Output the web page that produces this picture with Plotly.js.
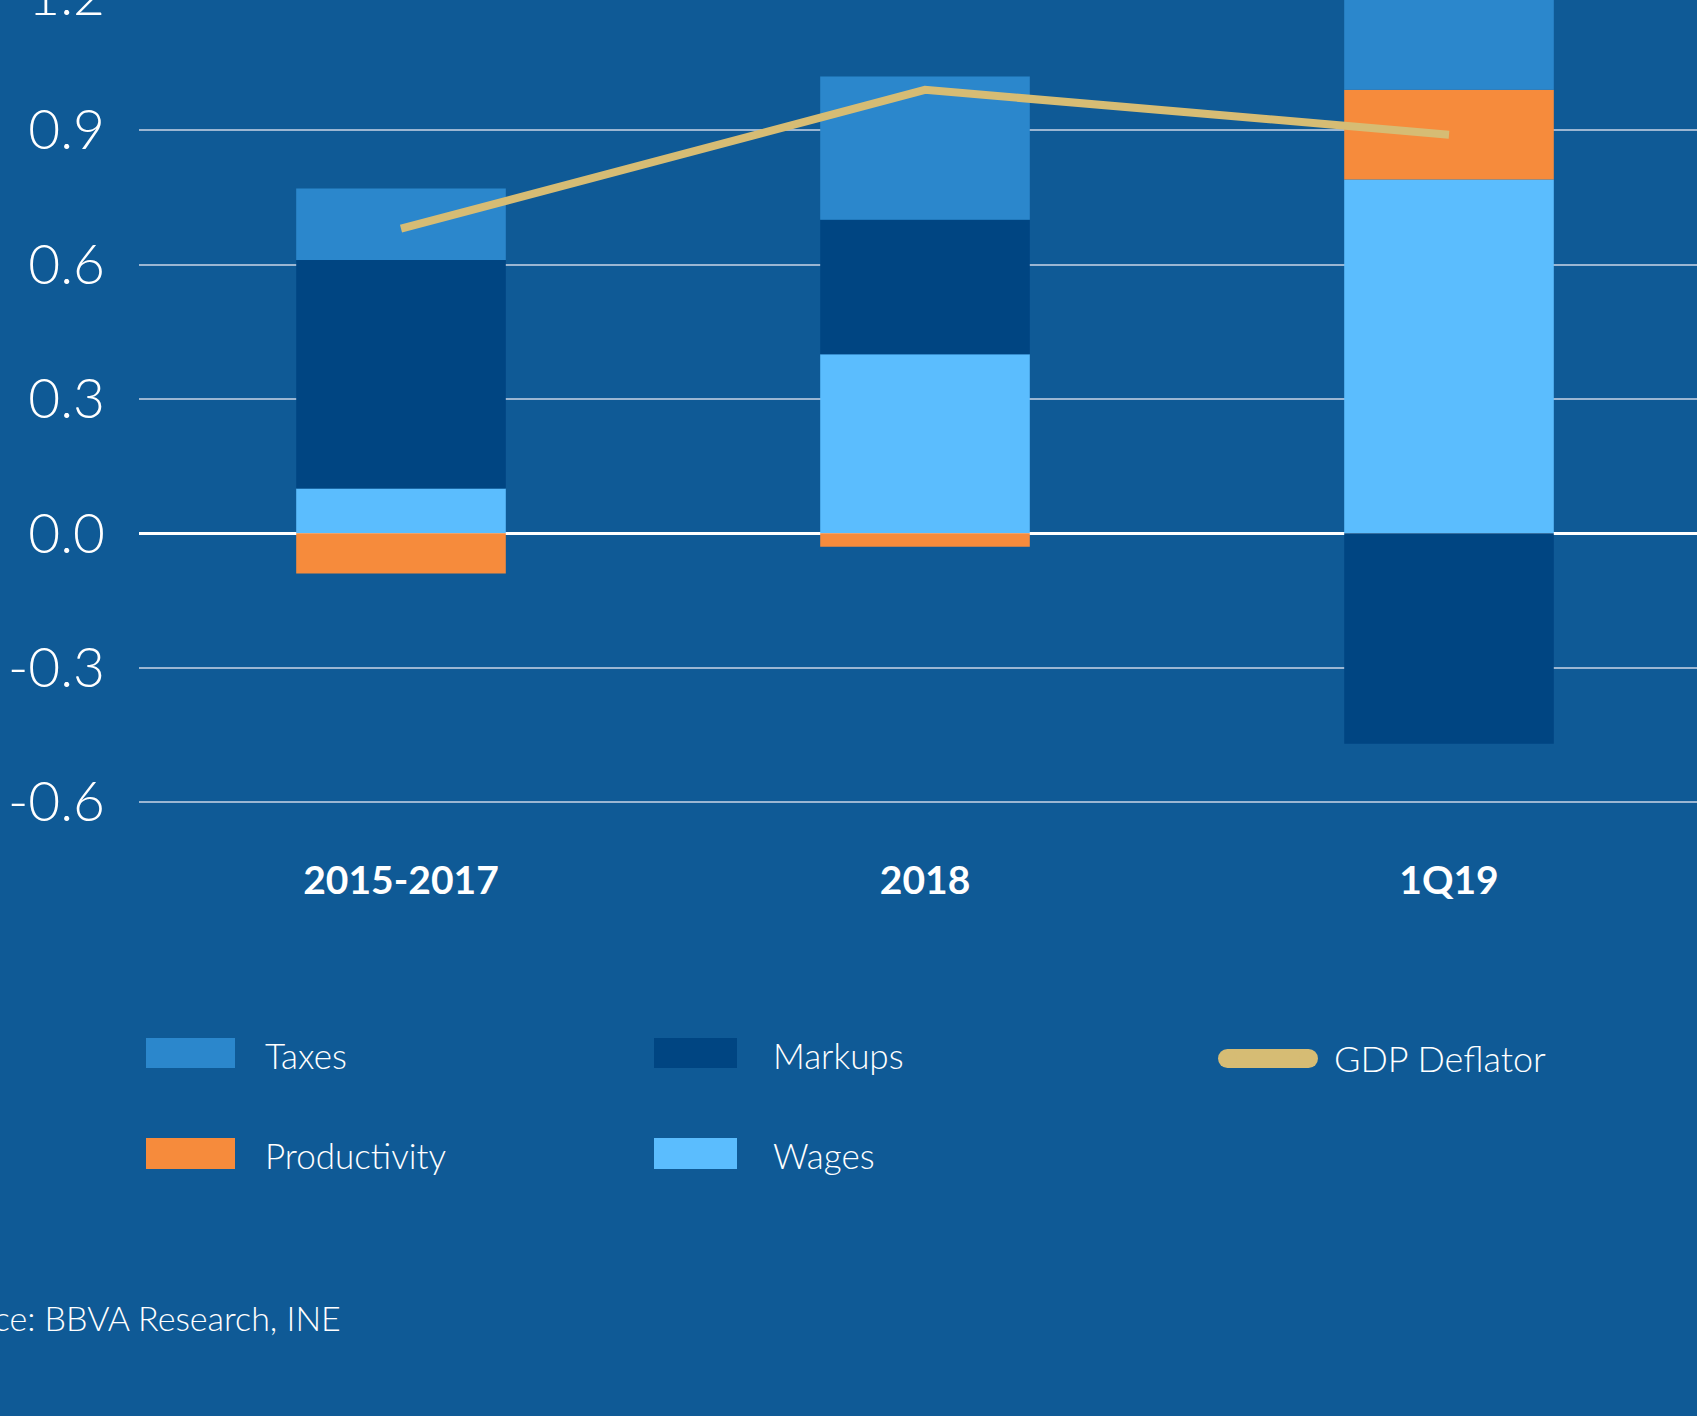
<!DOCTYPE html>
<html>
<head>
<meta charset="utf-8">
<script src="https://cdn.plot.ly/plotly-3.0.1.min.js"></script>
<style>
  html, body { margin: 0; padding: 0; width: 1697px; height: 1416px; overflow: hidden; background: #0F5A96; }
  #chart { position: absolute; left: -100px; top: -100px; width: 1861px; height: 1560px; }
</style>
</head>
<body>
<div id="chart"></div>
<script>
// ---- data ----
const categories = ['2015-2017', '2018', '1Q19'];
const seriesNames = ['Taxes', 'Markups', 'GDP Deflator', 'Productivity', 'Wages'];
const taxes = [0.16, 0.32, 0.30];
const markups = [0.51, 0.30, -0.47];
const productivity = [-0.09, -0.03, 0.20];
const wages = [0.10, 0.40, 0.79];
const gdpDeflator = [0.68, 0.99, 0.89];
const yTickVals = [-0.6, -0.3, 0.0, 0.3, 0.6, 0.9, 1.2];
const yTickText = yTickVals.map(v => v.toFixed(1));   // plain hyphen for negatives
const sourceText = 'Source: BBVA Research, INE';

// ---- styles ----
const colors = {
  Taxes: '#2B87CC',
  Markups: '#004582',
  Productivity: '#F68B3C',
  Wages: '#5BBDFE',
  'GDP Deflator': '#D6BC74'
};
const BG = '#0F5A96';
const LIGHT = 'Lato, "Open Sans", sans-serif';

// page-pixel geometry of the plot area (chart is a crop of a larger figure)
const OFFX = 100, OFFY = 100, W = 1861, H = 1560;
const PL = 139, PR = 1711, PT = -49, PB = 811;
function px(x) { return (x - PL) / (PR - PL); }
function py(y) { return (PB - y) / (PB - PT); }

function barTrace(name, vals) {
  return {
    type: 'bar', name: name, x: categories, y: vals,
    marker: { color: colors[name], line: { width: 0 } },
    showlegend: false, hoverinfo: 'skip'
  };
}

const traces = [
  barTrace('Wages', wages),
  barTrace('Productivity', productivity),
  barTrace('Markups', markups),
  barTrace('Taxes', taxes),
  {
    type: 'scatter', mode: 'lines', name: 'GDP Deflator',
    x: categories, y: gdpDeflator,
    line: { color: colors['GDP Deflator'], width: 8 },
    showlegend: false, hoverinfo: 'skip'
  }
];

// ---- custom legend (large swatches as in the original) ----
const legendItems = [
  { name: seriesNames[0], box: [146, 1038, 235, 1068], tx: 263, ty: 1055 },
  { name: seriesNames[1], box: [654, 1038, 737, 1068], tx: 771, ty: 1055 },
  { name: seriesNames[3], box: [146, 1138, 235, 1169], tx: 263, ty: 1155 },
  { name: seriesNames[4], box: [654, 1138, 737, 1169], tx: 771, ty: 1155 }
];
const shapes = [];
const annotations = [];
legendItems.forEach(it => {
  shapes.push({
    type: 'rect', xref: 'paper', yref: 'paper',
    x0: px(it.box[0]), x1: px(it.box[2]), y0: py(it.box[3]), y1: py(it.box[1]),
    fillcolor: colors[it.name], line: { width: 0 }
  });
  annotations.push({
    xref: 'paper', yref: 'paper', x: px(it.tx), y: py(it.ty),
    xanchor: 'left', yanchor: 'middle', showarrow: false, text: it.name,
    font: { family: LIGHT, size: 35, color: '#FFFFFF', weight: 300 }
  });
});
// GDP deflator legend swatch: thick rounded line
const gcol = colors['GDP Deflator'];
const gx0 = 1218, gx1 = 1318, gy0 = 1049, gy1 = 1068, gr = (gy1 - gy0) / 2;
shapes.push({ type: 'rect', xref: 'paper', yref: 'paper', x0: px(gx0 + gr), x1: px(gx1 - gr), y0: py(gy1), y1: py(gy0), fillcolor: gcol, line: { width: 0 } });
shapes.push({ type: 'circle', xref: 'paper', yref: 'paper', x0: px(gx0), x1: px(gx0 + 2 * gr), y0: py(gy1), y1: py(gy0), fillcolor: gcol, line: { width: 0 } });
shapes.push({ type: 'circle', xref: 'paper', yref: 'paper', x0: px(gx1 - 2 * gr), x1: px(gx1), y0: py(gy1), y1: py(gy0), fillcolor: gcol, line: { width: 0 } });
annotations.push({
  xref: 'paper', yref: 'paper', x: px(1332), y: py(1058),
  xanchor: 'left', yanchor: 'middle', showarrow: false, text: seriesNames[2],
  font: { family: LIGHT, size: 36, color: '#FFFFFF', weight: 300 }
});
// source note
annotations.push({
  xref: 'paper', yref: 'paper', x: px(343), y: py(1317),
  xanchor: 'right', yanchor: 'middle', showarrow: false, text: sourceText,
  font: { family: LIGHT, size: 34, color: '#FFFFFF', weight: 300 }
});

const layout = {
  width: W, height: H,
  margin: { l: PL + OFFX, r: W - (PR + OFFX), t: PT + OFFY, b: H - (PB + OFFY), pad: 0 },
  paper_bgcolor: BG, plot_bgcolor: BG,
  barmode: 'relative', bargap: 0.6,
  showlegend: false,
  xaxis: {
    type: 'category', range: [-0.5, 2.5],
    showgrid: false, showline: false, zeroline: false, ticks: '',
    ticklabelstandoff: 43,
    tickfont: { family: LIGHT, size: 39, color: '#FFFFFF', weight: 700 }
  },
  yaxis: {
    range: [-0.62, 1.3],
    tickmode: 'array', tickvals: yTickVals, ticktext: yTickText,
    showgrid: true, gridcolor: '#9BB6D2', gridwidth: 2,
    zeroline: true, zerolinecolor: '#FFFFFF', zerolinewidth: 2.5,
    showline: false, ticks: '',
    ticklabelstandoff: 33,
    tickfont: { family: LIGHT, size: 55, color: '#FFFFFF', weight: 300 }
  },
  shapes: shapes,
  annotations: annotations
};

Plotly.newPlot('chart', traces, layout, { staticPlot: true, displayModeBar: false });
</script>
</body>
</html>
